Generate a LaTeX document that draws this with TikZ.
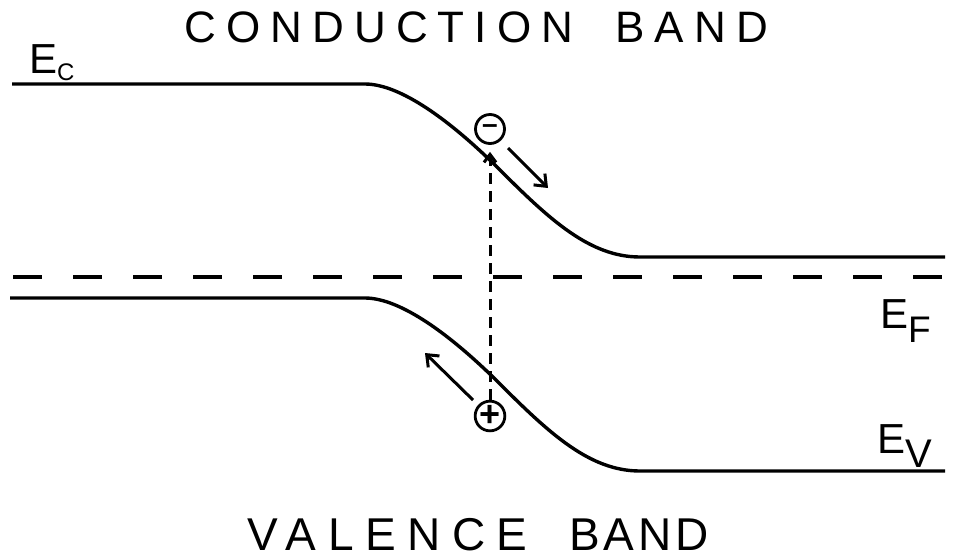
\documentclass[tikz,border=0pt]{standalone}
\usepackage{fontspec}
\setmainfont{Liberation Sans}
\usetikzlibrary{arrows.meta}
\definecolor{bandink}{HTML}{000000}
\tikzset{
  band/.style={draw=bandink, line width=3.4pt},
  fermi/.style={draw=bandink, line width=3.2pt, dash pattern=on 29pt off 31pt},
  charge/.style={draw=bandink, circle, line width=2.8pt, minimum size=29pt, inner sep=0pt, font=\fontsize{28}{28}\selectfont\bfseries},
  drift/.style={-{Straight Barb[length=10pt,width=16pt,line width=3pt]}, line width=3pt, color=bandink},
  excite/.style={-{Straight Barb[length=8pt,width=12pt,line width=3pt]}, line width=3pt, color=bandink, dash pattern=on 11pt off 7pt},
  title/.style={inner sep=0pt, anchor=base west},
  level/.style={font=\fontsize{42}{42}\selectfont, inner sep=0pt, anchor=base west},
}
\newcommand{\lsub}[3]{E\raisebox{#3}{\fontsize{#2}{#2}\selectfont #1}}

\begin{document}
\begin{tikzpicture}[x=1pt,y=-1pt]
  \useasboundingbox (0,0) rectangle (972,558);
  % band edges
  \draw[band] (12,84) -- (365,84) .. controls (400,84) and (450,120) .. (500,170)
    .. controls (550,220) and (590,257) .. (640,257) -- (945,257);
  \draw[band] (10,298) -- (365,298) .. controls (400,298) and (450,334) .. (500,384)
    .. controls (550,434) and (590,471) .. (640,471) -- (945,471);
  \draw[fermi] (13,277) -- (945,277);
  % labels
  \node[title, font=\fontsize{44}{44}\selectfont\addfontfeatures{LetterSpace=23}] (cband) at (184,42)
    {CONDUCTION\hspace{42pt}BAND};
  \node[title, font=\fontsize{46}{46}\selectfont\addfontfeatures{LetterSpace=25}] (vband) at (247,550)
    {VALENCE\hspace{42pt}{\addfontfeatures{LetterSpace=8}BAND}};
  \node[level] (ec) at (29,73) {\lsub{C}{24}{-7pt}};
  \node[level] (ef) at (880,328) {\lsub{F}{37}{-14pt}};
  \node[level] (ev) at (877,453) {\lsub{V}{40}{-14pt}};
  % carriers
  \node[charge] (elec) at (490,129) {--};
  \node[charge, font=\fontsize{36}{36}\selectfont\bfseries] (hole) at (490,416) {+};
  \draw[excite, shorten >=7pt] (hole) -- (elec);
  \coordinate (edriftA) at (508,148);
  \coordinate (edriftB) at (548,188);
  \coordinate (hdriftA) at (473,400);
  \coordinate (hdriftB) at (425,353);
  \draw[drift] (edriftA) -- (edriftB);
  \draw[drift] (hdriftA) -- (hdriftB);
\end{tikzpicture}
\end{document}
